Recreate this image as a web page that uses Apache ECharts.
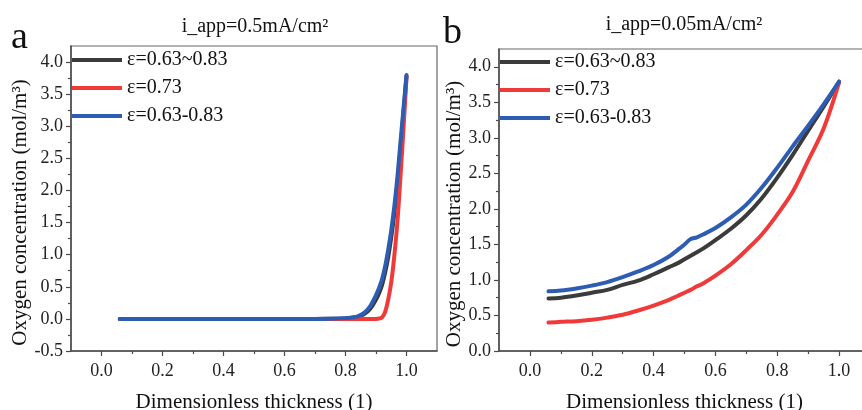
<!DOCTYPE html>
<html>
<head>
<meta charset="utf-8">
<script src="https://cdn.jsdelivr.net/npm/echarts@6/dist/echarts.min.js"></script>
<style>
  html, body { margin: 0; padding: 0; background: #fff; }
  #chart { width: 862px; height: 410px; }
</style>
</head>
<body>
<div id="chart"></div>
<script>
// Panel titles and series names
const panelTitles = ['i_app=0.5mA/cm²', 'i_app=0.05mA/cm²'];
const panelLetters = ['a', 'b'];
const seriesNames = ['ε=0.63~0.83', 'ε=0.73', 'ε=0.63-0.83'];
const seriesColors = ['#3b3b3b', '#f03a3a', '#2d5db3'];

// Axis ticks
const xMajorTicks = [0.0, 0.2, 0.4, 0.6, 0.8, 1.0];
const xMinorTicks = [0.1, 0.3, 0.5, 0.7, 0.9];
const yMajorTicksA = [-0.5, 0.0, 0.5, 1.0, 1.5, 2.0, 2.5, 3.0, 3.5, 4.0];
const yMinorTicksA = [-0.25, 0.25, 0.75, 1.25, 1.75, 2.25, 2.75, 3.25, 3.75];
const yMajorTicksB = [0.0, 0.5, 1.0, 1.5, 2.0, 2.5, 3.0, 3.5, 4.0];
const yMinorTicksB = [0.25, 0.75, 1.25, 1.75, 2.25, 2.75, 3.25, 3.75];

// Panel a: i_app = 0.5 mA/cm2
const xA = [0.06, 0.1, 0.2, 0.3, 0.4, 0.5, 0.6, 0.7, 0.75, 0.8, 0.82, 0.84, 0.86, 0.88,
            0.9, 0.91, 0.92, 0.93, 0.94, 0.95, 0.96, 0.97, 0.98, 0.99, 1.0];
const blackA = [0, 0, 0, 0, 0, 0, 0, 0, 0.002, 0.008, 0.015, 0.03, 0.07, 0.15,
                0.3, 0.4, 0.53, 0.72, 0.96, 1.27, 1.64, 2.1, 2.63, 3.2, 3.78];
const redA = [0, 0, 0, 0, 0, 0, 0, 0, 0, 0, 0, 0, 0, 0,
              0, 0.006, 0.025, 0.11, 0.3, 0.57, 0.98, 1.5, 2.2, 2.95, 3.76];
const blueA = [0, 0, 0, 0, 0, 0, 0, 0, 0.003, 0.012, 0.022, 0.04, 0.09, 0.19,
               0.37, 0.48, 0.62, 0.82, 1.08, 1.38, 1.75, 2.2, 2.74, 3.27, 3.8];

// Panel b: i_app = 0.05 mA/cm2
const xB = [0.06, 0.1, 0.15, 0.2, 0.25, 0.3, 0.35, 0.4, 0.45, 0.48, 0.5, 0.52, 0.54, 0.56,
            0.6, 0.65, 0.7, 0.75, 0.8, 0.85, 0.9, 0.95, 1.0];
const blackB = [0.74, 0.75, 0.78, 0.82, 0.86, 0.93, 0.99, 1.08, 1.18, 1.24, 1.29, 1.34, 1.39, 1.44,
                1.56, 1.72, 1.91, 2.15, 2.44, 2.76, 3.1, 3.44, 3.79];
const redB = [0.40, 0.41, 0.42, 0.44, 0.47, 0.51, 0.57, 0.64, 0.72, 0.78, 0.82, 0.86, 0.91, 0.95,
              1.06, 1.22, 1.42, 1.64, 1.92, 2.24, 2.68, 3.13, 3.78];
const blueB = [0.84, 0.85, 0.88, 0.92, 0.97, 1.04, 1.12, 1.21, 1.33, 1.43, 1.50, 1.575, 1.60, 1.64,
               1.73, 1.88, 2.06, 2.30, 2.58, 2.88, 3.17, 3.47, 3.79];

const FONT = '"Liberation Serif", "DejaVu Serif", serif';
const AXIS_COLOR = '#4a4a4a';

function pairs(xs, ys) { return xs.map((x, i) => [x, ys[i]]); }

function fmt(v) { return v.toFixed(1); }

function majorX(gridIndex) {
  return {
    type: 'value', gridIndex, min: -0.1, max: 1.1, position: 'bottom',
    name: 'Dimensionless thickness (1)', nameLocation: 'middle', nameGap: 41,
    nameTextStyle: { fontFamily: FONT, fontSize: 21, color: '#111' },
    axisLine: { show: true, onZero: false, lineStyle: { color: AXIS_COLOR, width: 1.5 } },
    axisTick: { show: true, inside: false, length: 5, customValues: xMajorTicks, lineStyle: { color: AXIS_COLOR, width: 1.2 } },
    axisLabel: { show: true, customValues: xMajorTicks, formatter: fmt, margin: 11, fontFamily: FONT, fontSize: 18, color: '#222' },
    splitLine: { show: false }
  };
}
function minorX(gridIndex) {
  return {
    type: 'value', gridIndex, min: -0.1, max: 1.1, position: 'bottom',
    axisLine: { show: false, onZero: false },
    axisTick: { show: true, inside: false, length: 3, customValues: xMinorTicks, lineStyle: { color: AXIS_COLOR, width: 1.2 } },
    axisLabel: { show: false, customValues: xMinorTicks },
    splitLine: { show: false }
  };
}
function majorY(gridIndex, min, majors, nameGap) {
  return {
    type: 'value', gridIndex, min, max: 4.25, position: 'left',
    name: 'Oxygen concentration (mol/m³)', nameLocation: 'middle', nameGap,
    nameTextStyle: { fontFamily: FONT, fontSize: 21, color: '#111', padding: [0, 28, 0, 0] },
    axisLine: { show: true, onZero: false, lineStyle: { color: AXIS_COLOR, width: 1.5 } },
    axisTick: { show: true, inside: false, length: 5, customValues: majors, lineStyle: { color: AXIS_COLOR, width: 1.2 } },
    axisLabel: { show: true, customValues: majors, formatter: fmt, margin: 8, fontFamily: FONT, fontSize: 18, color: '#222' },
    splitLine: { show: false }
  };
}
function minorY(gridIndex, min, minors) {
  return {
    type: 'value', gridIndex, min, max: 4.25, position: 'left',
    axisLine: { show: false, onZero: false },
    axisTick: { show: true, inside: false, length: 3, customValues: minors, lineStyle: { color: AXIS_COLOR, width: 1.2 } },
    axisLabel: { show: false, customValues: minors },
    splitLine: { show: false }
  };
}

function line(name, idx, data, axisIndex) {
  return {
    type: 'line', name, data,
    xAxisIndex: axisIndex, yAxisIndex: axisIndex,
    smooth: 0.35, showSymbol: false, symbol: 'none',
    color: seriesColors[idx],
    lineStyle: { width: 4, color: seriesColors[idx], cap: 'round', join: 'round' },
    z: 3 + idx
  };
}

function legendAt(left, top) {
  return {
    data: seriesNames, orient: 'vertical', left, top, padding: 0,
    icon: 'rect', itemWidth: 50, itemHeight: 4, itemGap: 8, itemTextGap: 5,
    textStyle: { fontFamily: FONT, fontSize: 20, color: '#111' },
    selectedMode: false
  };
}

function gridAt(left, top, width, height) {
  return {
    left, top, width, height, containLabel: false, outerBoundsMode: 'none',
    show: true, borderColor: '#666', borderWidth: 1.2, backgroundColor: 'transparent'
  };
}

const chart = echarts.init(document.getElementById('chart'), null, { renderer: 'canvas' });
chart.setOption({
  backgroundColor: '#fff',
  animation: false,
  title: [
    { text: panelTitles[0], left: 255, top: 17, padding: 0, textAlign: 'center', textStyle: { fontFamily: FONT, fontSize: 20, fontWeight: 'normal', color: '#111' } },
    { text: panelTitles[1], left: 684, top: 15, padding: 0, textAlign: 'center', textStyle: { fontFamily: FONT, fontSize: 20, fontWeight: 'normal', color: '#111' } },
    { text: panelLetters[0], left: 11, top: 19, padding: 0, textStyle: { fontFamily: FONT, fontSize: 38, fontWeight: 'normal', color: '#111' } },
    { text: panelLetters[1], left: 443, top: 14, padding: 0, textStyle: { fontFamily: FONT, fontSize: 38, fontWeight: 'normal', color: '#111' } }
  ],
  legend: [legendAt(72, 50), legendAt(500, 52)],
  grid: [gridAt(71, 46, 366, 305), gridAt(499, 49, 371, 302)],
  xAxis: [majorX(0), majorX(1), minorX(0), minorX(1)],
  yAxis: [majorY(0, -0.5, yMajorTicksA, 36), majorY(1, 0, yMajorTicksB, 34), minorY(0, -0.5, yMinorTicksA), minorY(1, 0, yMinorTicksB)],
  series: [
    line(seriesNames[0], 0, pairs(xA, blackA), 0),
    line(seriesNames[1], 1, pairs(xA, redA), 0),
    line(seriesNames[2], 2, pairs(xA, blueA), 0),
    line(seriesNames[0], 0, pairs(xB, blackB), 1),
    line(seriesNames[1], 1, pairs(xB, redB), 1),
    line(seriesNames[2], 2, pairs(xB, blueB), 1)
  ]
});
</script>
</body>
</html>
